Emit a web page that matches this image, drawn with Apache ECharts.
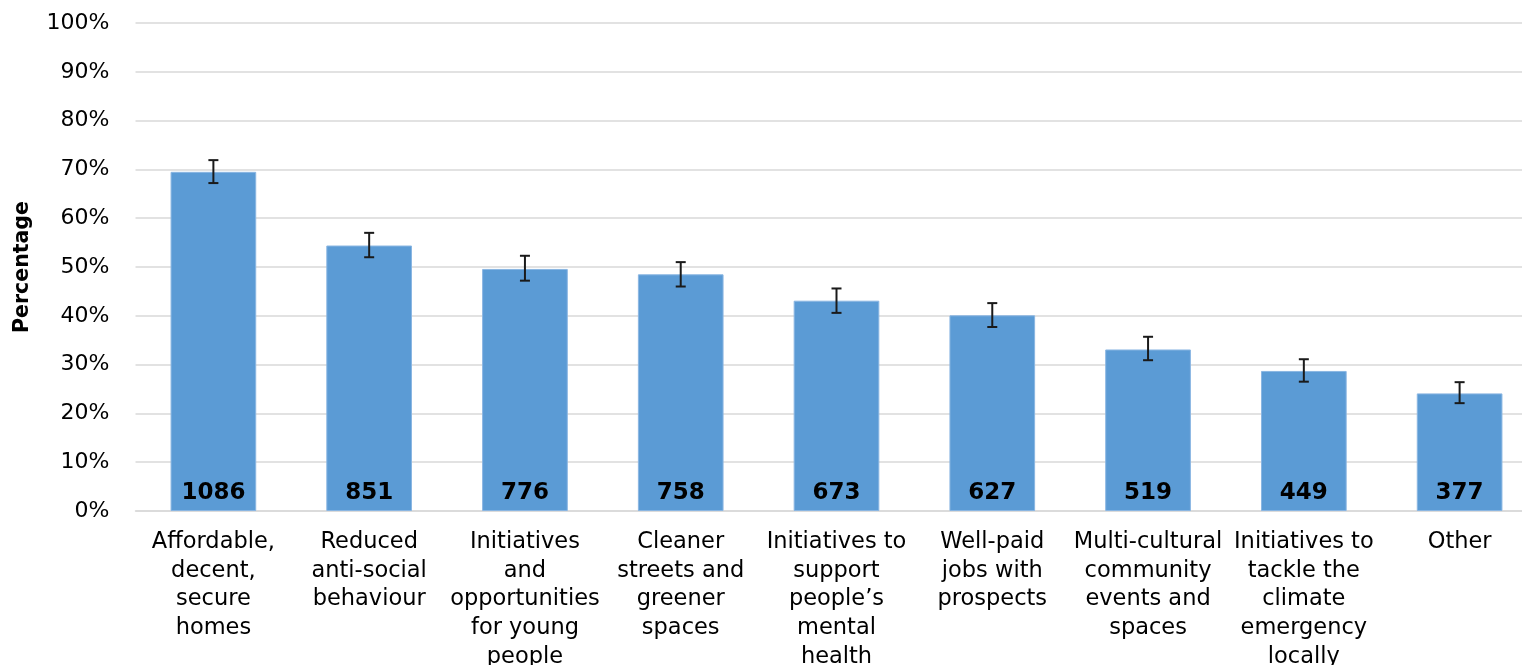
<!DOCTYPE html>
<html>
<head>
<meta charset="utf-8">
<script src="https://cdn.jsdelivr.net/npm/echarts@6/dist/echarts.min.js"></script>
<style>
html,body{margin:0;padding:0;background:#fff;}
#chart{width:1522px;height:665px;}
</style>
</head>
<body>
<div id="chart"></div>
<script>
const categories = [
  "Affordable,\ndecent,\nsecure\nhomes",
  "Reduced\nanti-social\nbehaviour",
  "Initiatives\nand\nopportunities\nfor young\npeople",
  "Cleaner\nstreets and\ngreener\nspaces",
  "Initiatives to\nsupport\npeople\u2019s\nmental\nhealth",
  "Well-paid\njobs with\nprospects",
  "Multi-cultural\ncommunity\nevents and\nspaces",
  "Initiatives to\ntackle the\nclimate\nemergency\nlocally",
  "Other"
];
const percentages = [69.5, 54.4, 49.6, 48.5, 43.1, 40.1, 33.1, 28.7, 24.1];
const errorLow  = [67.2, 52.0, 47.2, 46.0, 40.6, 37.7, 30.9, 26.5, 22.1];
const errorHigh = [71.9, 57.0, 52.3, 51.0, 45.6, 42.6, 35.7, 31.1, 26.4];
const counts = [1086, 851, 776, 758, 673, 627, 519, 449, 377];
const yTicks = [0, 10, 20, 30, 40, 50, 60, 70, 80, 90, 100];

const chart = echarts.init(document.getElementById('chart'));
const errData = categories.map((c, i) => [i, errorLow[i], errorHigh[i]]);

chart.setOption({
  animation: false,
  backgroundColor: '#fff',
  grid: { left: 135.5, top: 23, width: 1402, height: 488, containLabel: false, outerBoundsMode: 'none' },
  xAxis: {
    type: 'category',
    data: categories,
    axisLine: { show: true, lineStyle: { color: '#d9d9d9', width: 1.5 } },
    axisTick: { show: false },
    axisLabel: {
      interval: 0,
      margin: 17,
      color: '#000',
      fontFamily: 'DejaVu Sans',
      fontSize: 22.5,
      lineHeight: 28.6,
      align: 'center'
    }
  },
  yAxis: {
    type: 'value',
    min: yTicks[0],
    max: yTicks[yTicks.length - 1],
    interval: 10,
    name: 'Percentage',
    nameLocation: 'middle',
    nameGap: 102,
    nameRotate: 90,
    nameTextStyle: {
      color: '#000',
      fontFamily: 'DejaVu Sans',
      fontWeight: 'bold',
      fontSize: 20.5
    },
    axisLine: { show: false },
    axisTick: { show: false },
    axisLabel: {
      formatter: '{value}%',
      color: '#000',
      fontFamily: 'DejaVu Sans',
      fontSize: 22,
      margin: 26
    },
    splitLine: { lineStyle: { color: '#d9d9d9', width: 1.5 } }
  },
  series: [
    {
      type: 'bar',
      data: percentages,
      barWidth: '55%',
      itemStyle: { color: '#5b9bd5', borderColor: '#8ab6e2', borderWidth: 1 },
      label: {
        show: true,
        position: 'insideBottom',
        distance: 6,
        formatter: p => String(counts[p.dataIndex]),
        color: '#000',
        fontFamily: 'DejaVu Sans',
        fontWeight: 'bold',
        fontSize: 23
      },
      z: 2
    },
    {
      type: 'custom',
      data: errData,
      encode: { x: 0, y: [1, 2] },
      renderItem: function (params, api) {
        const idx = api.value(0);
        const lo = api.coord([idx, api.value(1)]);
        const hi = api.coord([idx, api.value(2)]);
        const hw = 5;
        const style = { stroke: '#1a1a1a', lineWidth: 2 };
        return {
          type: 'group',
          children: [
            { type: 'line', shape: { x1: lo[0], y1: lo[1], x2: hi[0], y2: hi[1] }, style: style },
            { type: 'line', shape: { x1: lo[0] - hw, y1: lo[1], x2: lo[0] + hw, y2: lo[1] }, style: style },
            { type: 'line', shape: { x1: hi[0] - hw, y1: hi[1], x2: hi[0] + hw, y2: hi[1] }, style: style }
          ]
        };
      },
      z: 3
    }
  ]
});
</script>
</body>
</html>
